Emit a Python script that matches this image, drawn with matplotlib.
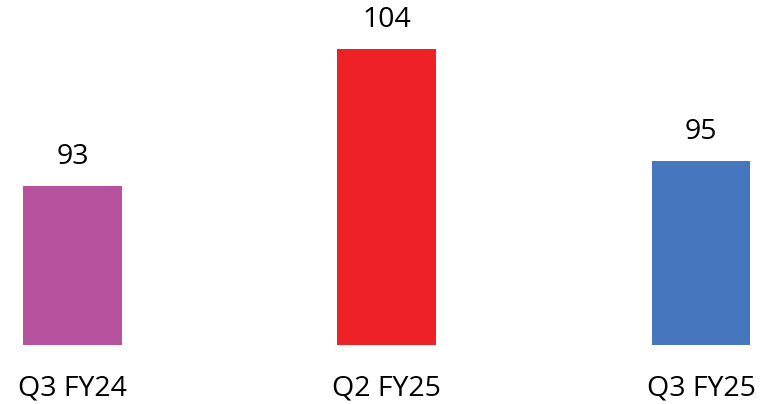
import matplotlib
matplotlib.use('agg')
import matplotlib.pyplot as plt

categories = ['Q3 FY24', 'Q2 FY25', 'Q3 FY25']
values = [93, 104, 95]
colors = ['#B7529E', '#EE2226', '#4677BE']

plt.rcParams['font.family'] = ['Open Sans', 'DejaVu Sans']

fig = plt.figure(figsize=(7.71, 4.04), dpi=100)
# axes: bottom edge at the bar baseline (pixel 345 from top)
ax = fig.add_axes([0, 59 / 404, 1, 335 / 404])

x = range(len(categories))
bars = ax.bar(x, values, width=0.315, color=colors, bottom=0)
ax.set_ylim(80.2, 80.2 + 335 / 12.45)
ax.set_xlim(-72.5 / 314.25, (771 - 72.5) / 314.25)

for b, v in zip(bars, values):
    ax.annotate(str(v), (b.get_x() + b.get_width() / 2, v),
                xytext=(0, 10.5), textcoords='offset points',
                ha='center', va='bottom', fontsize=20.5)

ax.set_xticks(list(x))
ax.set_xticklabels(categories, fontsize=20.5)
ax.tick_params(axis='x', length=0, pad=21)
ax.set_yticks([])
for s in ax.spines.values():
    s.set_visible(False)

fig.savefig('out.png', dpi=100)
